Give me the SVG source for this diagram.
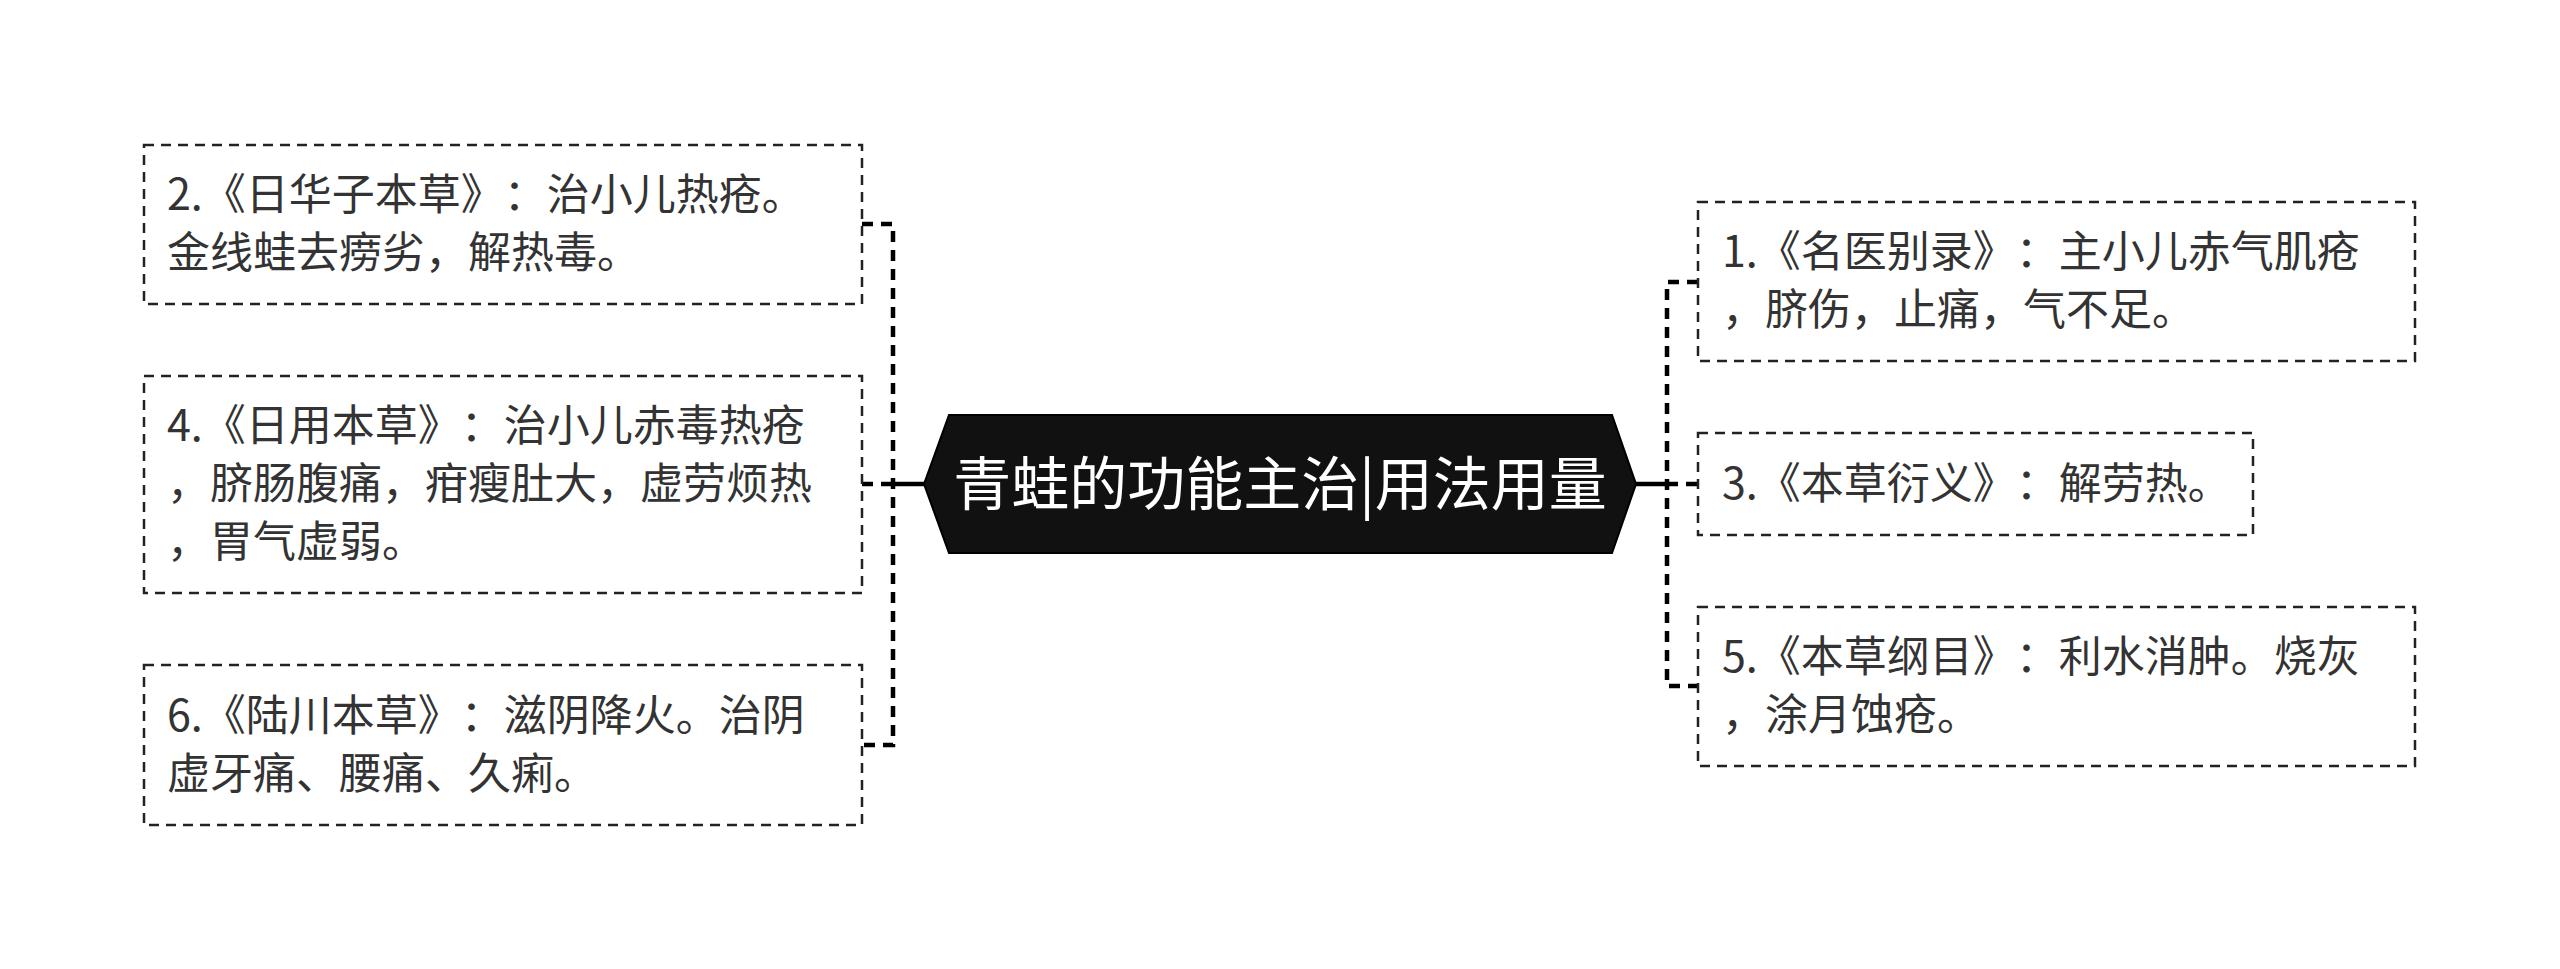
<svg xmlns="http://www.w3.org/2000/svg" width="2560" height="969" viewBox="0 0 2560 969">
<style>
.bg{fill:#ffffff}
.box{fill:#ffffff;stroke:#222;stroke-width:2.5;stroke-dasharray:10 7}
.t{font-family:"Noto Sans CJK SC","Noto Sans",sans-serif;font-size:43px;fill:#333;text-spacing-trim:space-all}
.ct{font-family:"Noto Sans CJK SC","Noto Sans",sans-serif;font-size:58px;fill:#ffffff}
.bus{fill:none;stroke:#000;stroke-width:4.5;stroke-dasharray:11 8}
.solid{fill:none;stroke:#000;stroke-width:4.5}
</style>
<rect class="bg" x="0" y="0" width="2560" height="969"/>
<g id="connectors">
<path class="solid" d="M924,484 H893"/>
<path class="bus" d="M862,224 H893 V745 H862"/>
<path class="bus" d="M862,484 H893"/>
<path class="solid" d="M1636,484 H1667"/>
<path class="bus" d="M1698,282 H1667 V686 H1698"/>
<path class="bus" d="M1667,484 H1698"/>
</g>
<g id="center">
<polygon points="924,484 949,415 1612,415 1636,484 1612,553 949,553" fill="#111111" stroke="#000" stroke-width="2"/>
<text class="ct" x="1280" y="505" text-anchor="middle">青蛙的功能主治|用法用量</text>
</g>
<g id="node2">
<rect class="box" x="144" y="145" width="718" height="159"/>
<text class="t" x="167" y="210">2.《日华子本草》：治小儿热疮。</text>
<text class="t" x="167" y="268">金线蛙去痨劣，解热毒。</text>
</g>
<g id="node4">
<rect class="box" x="144" y="376" width="718" height="217"/>
<text class="t" x="167" y="441">4.《日用本草》：治小儿赤毒热疮</text>
<text class="t" x="167" y="499">，脐肠腹痛，疳瘦肚大，虚劳烦热</text>
<text class="t" x="167" y="557">，胃气虚弱。</text>
</g>
<g id="node6">
<rect class="box" x="144" y="665" width="718" height="160"/>
<text class="t" x="167" y="731">6.《陆川本草》：滋阴降火。治阴</text>
<text class="t" x="167" y="789">虚牙痛、腰痛、久痢。</text>
</g>
<g id="node1">
<rect class="box" x="1698" y="202" width="717" height="159"/>
<text class="t" x="1722" y="267">1.《名医别录》：主小儿赤气肌疮</text>
<text class="t" x="1722" y="325">，脐伤，止痛，气不足。</text>
</g>
<g id="node3">
<rect class="box" x="1698" y="433" width="555" height="102"/>
<text class="t" x="1722" y="499">3.《本草衍义》：解劳热。</text>
</g>
<g id="node5">
<rect class="box" x="1698" y="607" width="717" height="159"/>
<text class="t" x="1722" y="672">5.《本草纲目》：利水消肿。烧灰</text>
<text class="t" x="1722" y="730">，涂月蚀疮。</text>
</g>
</svg>
